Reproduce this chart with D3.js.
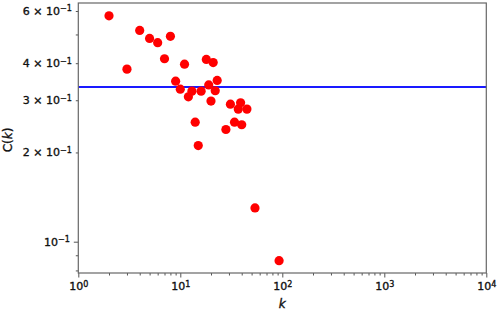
<!DOCTYPE html>
<html>
<head>
<meta charset="utf-8">
<script src="https://cdn.jsdelivr.net/npm/d3@7"></script>
<style>
  body { margin: 0; background: #fff; }
  text { font-family: "DejaVu Sans", sans-serif; fill: #111; stroke: #111; stroke-width: 0.35px; }
</style>
</head>
<body>
<div id="chart"></div>
<script>
var svgWidth = 498;
var svgHeight = 316;

// data
var degree = [2, 3, 4, 5, 6, 8, 7, 9, 10, 11, 12, 13, 14, 15, 16, 18, 19, 20, 21, 22, 23, 28, 31, 34, 37, 39, 40, 45, 54, 93];
var clustering = [0.578, 0.382, 0.516, 0.485, 0.469, 0.493, 0.414, 0.348, 0.327, 0.397, 0.308, 0.322, 0.253, 0.211,
  0.322, 0.412, 0.338, 0.298, 0.402, 0.323, 0.350, 0.239, 0.291, 0.253, 0.280, 0.294, 0.248, 0.280, 0.130, 0.0863];
var meanClustering = 0.3325;

var xMajorTicks = [1, 10, 100, 1000, 10000];
var xMinorTicks = [];
[1, 10, 100, 1000].forEach(function(b) {
  for (var m = 2; m <= 9; m++) xMinorTicks.push(b * m);
});
var yMajorTicks = [0.1];
var yMinorTicks = [0.08, 0.09, 0.2, 0.3, 0.4, 0.5, 0.6];
var yLabelledMinor = { 0.2: "2", 0.3: "3", 0.4: "4", 0.6: "6" };

var margin = { top: 3, right: 11.7, bottom: 43, left: 78.3 };
var width = svgWidth - margin.left - margin.right;
var height = svgHeight - margin.top - margin.bottom;

var svg = d3.select("#chart")
  .append("svg")
  .attr("width", svgWidth)
  .attr("height", svgHeight);

var chartGroup = svg.append("g")
  .attr("transform", `translate(${margin.left}, ${margin.top})`);

var xScale = d3.scaleLog().domain([1, 10000]).range([0, width]);
var yScale = d3.scaleLog().domain([0.07842, 0.6384]).range([height, 0]);

// superscript helper for "10^e" style labels
function writePower(sel, mant, exp) {
  sel.text(null);
  if (mant) sel.append("tspan").text(mant + " \u00d7 ");
  sel.append("tspan").text("10");
  sel.append("tspan").attr("dy", "-0.45em").attr("font-size", "8px").text(exp);
}

// x axis, minor then major
chartGroup.append("g")
  .attr("transform", `translate(0, ${height})`)
  .call(d3.axisBottom(xScale).tickValues(xMinorTicks).tickSize(2.5).tickFormat(""))
  .call(g => g.select(".domain").remove());

var xAxis = chartGroup.append("g")
  .attr("transform", `translate(0, ${height})`)
  .call(d3.axisBottom(xScale).tickValues(xMajorTicks).tickSize(4.5).tickPadding(5));
xAxis.select(".domain").remove();
xAxis.selectAll("text")
  .attr("font-size", "11px")
  .each(function(d) {
    writePower(d3.select(this), null, String(Math.round(Math.log10(d))).replace("-", "\u2212"));
  });

// y axis
var yMinor = chartGroup.append("g")
  .call(d3.axisLeft(yScale).tickValues(yMinorTicks).tickSize(2.5).tickPadding(4)
    .tickFormat(d => yLabelledMinor[d] || ""));
yMinor.select(".domain").remove();
yMinor.selectAll("text")
  .attr("font-size", "11px")
  .each(function(d) {
    if (yLabelledMinor[d]) writePower(d3.select(this), yLabelledMinor[d], "\u22121");
  });

var yAxis = chartGroup.append("g")
  .call(d3.axisLeft(yScale).tickValues(yMajorTicks).tickSize(4.5).tickPadding(4));
yAxis.select(".domain").remove();
yAxis.selectAll("text")
  .attr("font-size", "11px")
  .each(function(d) {
    writePower(d3.select(this), null, "\u22121");
  });

chartGroup.selectAll(".tick line").attr("stroke", "#555");

// mean clustering line
chartGroup.append("line")
  .attr("x1", 0)
  .attr("x2", width)
  .attr("y1", yScale(meanClustering))
  .attr("y2", yScale(meanClustering))
  .attr("stroke", "#1a1aff")
  .attr("stroke-width", 2);

// points
chartGroup.selectAll("circle")
  .data(degree)
  .enter()
  .append("circle")
  .attr("cx", d => xScale(d))
  .attr("cy", (d, i) => yScale(clustering[i]))
  .attr("r", 4.6)
  .attr("fill", "#ff0000");

// frame
chartGroup.append("rect")
  .attr("width", width)
  .attr("height", height)
  .attr("fill", "none")
  .attr("stroke", "#666")
  .attr("stroke-width", 1.2);

// axis labels
chartGroup.append("text")
  .attr("x", width / 2)
  .attr("y", height + 35)
  .attr("text-anchor", "middle")
  .attr("font-size", "12px")
  .attr("font-style", "italic")
  .text("k");

chartGroup.append("text")
  .attr("transform", "rotate(-90)")
  .attr("x", -137)
  .attr("y", -66)
  .attr("text-anchor", "middle")
  .attr("font-size", "12px")
  .text("C(")
  .append("tspan").attr("font-style", "italic").text("k")
  .select(function() { return this.parentNode; })
  .append("tspan").text(")");
</script>
</body>
</html>
